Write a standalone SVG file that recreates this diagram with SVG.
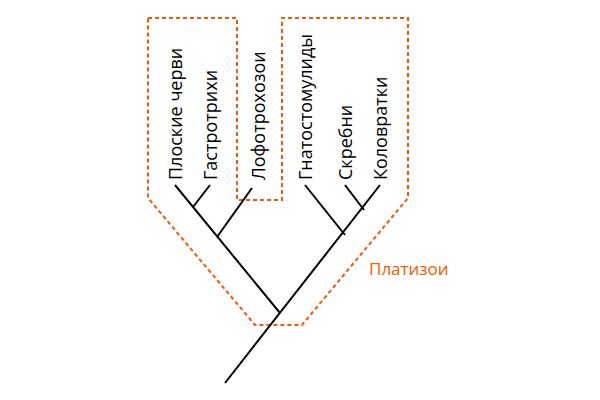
<svg xmlns="http://www.w3.org/2000/svg" width="600" height="400" viewBox="0 0 600 400">
<style>
.e{stroke:#000;stroke-width:2;fill:none}
.t{font-family:"Open Sans","Liberation Sans",sans-serif;font-size:18px;fill:#000}
</style>
<rect width="600" height="400" fill="#fff"/>
<g id="group">
<polygon points="148,18 237,18 237,200 282,200 282,18 408,18 408,198 302,325 255,325 148,198" fill="none" stroke="#f15a00" stroke-width="2" stroke-dasharray="4,3"/>
<text x="369" y="275" font-family="Open Sans,Liberation Sans,sans-serif" font-size="17" fill="#f15a00">Платизои</text>
</g>
<g id="connectors">
<line class="e" x1="225" y1="383" x2="380" y2="185"/>
<line class="e" x1="280" y1="313" x2="175" y2="185"/>
<line class="e" x1="217" y1="237" x2="252" y2="188"/>
<line class="e" x1="193" y1="207" x2="210" y2="185"/>
<line class="e" x1="345" y1="235" x2="305" y2="185"/>
<line class="e" x1="364" y1="210" x2="345" y2="185"/>
</g>
<g id="n1"><text class="t" transform="translate(182,180) rotate(-90)">Плоские черви</text></g>
<g id="n2"><text class="t" transform="translate(217,180) rotate(-90)">Гастротрихи</text></g>
<g id="n3"><text class="t" transform="translate(265,180) rotate(-90)">Лофотрохозои</text></g>
<g id="n4"><text class="t" transform="translate(312,180) rotate(-90)">Гнатостомулиды</text></g>
<g id="n5"><text class="t" transform="translate(352,180) rotate(-90)">Скребни</text></g>
<g id="n6"><text class="t" transform="translate(387,180) rotate(-90)">Коловратки</text></g>
</svg>
